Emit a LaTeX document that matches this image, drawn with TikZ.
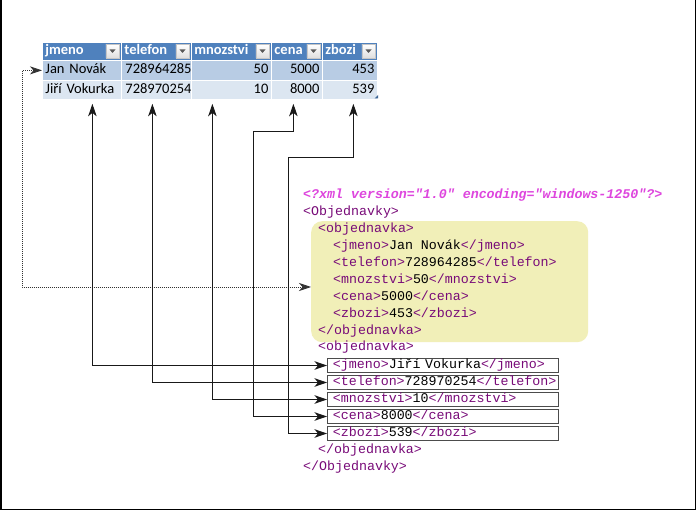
\documentclass[tikz,border=0pt]{standalone}
\usepackage{fontspec}
\setmainfont{Carlito}
\newfontfamily\xmlfont{Liberation Mono}
\usetikzlibrary{arrows.meta}
\definecolor{hdrblue}{RGB}{79,129,189}
\definecolor{rowA}{RGB}{184,204,228}
\definecolor{rowB}{RGB}{220,230,241}
\definecolor{xmlpink}{RGB}{222,70,222}
\definecolor{tagcol}{RGB}{120,10,120}
\definecolor{boxyellow}{RGB}{241,239,184}
\newcommand{\tg}[1]{\textcolor{tagcol}{#1}}
\newcommand{\tabfont}{\fontsize{14.5}{17}\selectfont}
\newcommand{\xmlsize}{\fontsize{13.3}{15}\selectfont}
\begin{document}
\begin{tikzpicture}[x=1pt,y=-1pt,
  cell/.style={anchor=north west, inner xsep=3pt, inner ysep=0pt, font=\tabfont,
    draw=white, line width=0.8pt, text height=10pt, text depth=3pt},
  hdr/.style={cell, fill=hdrblue, text=white, font=\tabfont\bfseries, minimum height=18pt, align=left},
  ra/.style={cell, fill=rowA, minimum height=20pt},
  rb/.style={cell, fill=rowB, minimum height=19pt},
  ddbtn/.style={draw=gray!45, top color=white, bottom color=gray!25, minimum size=13.5pt, inner sep=0pt,
    path picture={\fill[black!65] (path picture bounding box.center) ++(-3pt,1.5pt) -- ++(6pt,0pt) -- ++(-3pt,-3.5pt) -- cycle;}},
  xline/.style={anchor=west, inner sep=0pt, font=\xmlfont\xmlsize, text height=8.5pt, text depth=3pt},
  xbox/.style={xline, draw=black!70, line width=0.8pt, inner xsep=5.5pt, minimum height=14pt, text width=220pt, align=left},
  ybox/.style={anchor=north west, fill=boxyellow, rounded corners=11pt, minimum width=277pt, minimum height=121pt, inner sep=0pt},
  conn/.style={draw=black!90, line width=1pt, arrows={Stealth[length=12.5pt,width=8.5pt,inset=3.5pt]-Stealth[length=12.5pt,width=8.5pt,inset=3.5pt]}},
  dotconn/.style={draw=black!80, line width=0.8pt, dash pattern=on 1pt off 1pt, arrows={Stealth[length=12pt,width=8pt,inset=3.5pt]-Stealth[length=12pt,width=8pt,inset=3.5pt]}}
]
\useasboundingbox (0,0) rectangle (696,510);
\fill[white] (0,0) rectangle (696,510);
\draw[black, line width=1.5pt] (0.75,0) -- (0.75,509.25) -- (695.25,509.25) -- (695.25,0);

% ---- table ----
\node[hdr, text width=73pt] (h1) at (42,42) {jmeno};
\node[hdr, text width=64pt] (h2) at (121,42) {telefon};
\node[hdr, text width=74pt] (h3) at (191,42) {mnozstvi};
\node[hdr, text width=45pt] (h4) at (271,42) {cena};
\node[hdr, text width=49pt] (h5) at (322,42) {zbozi};

\node[ra, text width=73pt, align=left] (a1) at (42,60) {Jan Novák};
\node[ra, text width=62pt, align=left, inner xsep=4pt] (a2) at (121,60) {728964285};
\node[ra, text width=74pt, align=right] (a3) at (191,60) {50};
\node[ra, text width=45pt, align=right] (a4) at (271,60) {5000};
\node[ra, text width=49pt, align=right] (a5) at (322,60) {453};

\node[rb, text width=73pt, align=left] (b1) at (42,80) {Jiří Vokurka};
\node[rb, text width=62pt, align=left, inner xsep=4pt] (b2) at (121,80) {728970254};
\node[rb, text width=74pt, align=right] (b3) at (191,80) {10};
\node[rb, text width=45pt, align=right] (b4) at (271,80) {8000};
\node[rb, text width=49pt, align=right] (b5) at (322,80) {539};

\node[ddbtn] (d1) at (112.5,51) {};
\node[ddbtn] (d2) at (182.5,51) {};
\node[ddbtn] (d3) at (262.5,51) {};
\node[ddbtn] (d4) at (313.5,51) {};
\node[ddbtn] (d5) at (368.5,51) {};
\fill[hdrblue!80!black] (374.5,98.5) -- (378,98.5) -- (378,95) -- cycle;

% ---- XML ----
\node[ybox] (ybox) at (311,221) {};
\node[xline, text=xmlpink, font=\xmlfont\xmlsize\bfseries\itshape] (decl) at (303,195.5) {<?xml version="1.0" encoding="windows-1250"?>};
\node[xline] (root) at (303,212.5) {\tg{<Objednavky>}};
\node[xline] (o1) at (318,229.5) {\tg{<objednavka>}};
\node[xline] (j1) at (333,246.5) {\tg{<jmeno>}Jan Novák\tg{</jmeno>}};
\node[xline] (t1) at (333,263.5) {\tg{<telefon>}728964285\tg{</telefon>}};
\node[xline] (m1) at (333,280.5) {\tg{<mnozstvi>}50\tg{</mnozstvi>}};
\node[xline] (c1) at (333,297.5) {\tg{<cena>}5000\tg{</cena>}};
\node[xline] (z1) at (333,314.5) {\tg{<zbozi>}453\tg{</zbozi>}};
\node[xline] (e1) at (318,331.5) {\tg{</objednavka>}};
\node[xline] (o2) at (318,348) {\tg{<objednavka>}};
\node[xbox] (x1) at (327,365.5) {\tg{<jmeno>}Jiří Vokurka\tg{</jmeno>}};
\node[xbox] (x2) at (327,382.5) {\tg{<telefon>}728970254\tg{</telefon>}};
\node[xbox] (x3) at (327,399.5) {\tg{<mnozstvi>}10\tg{</mnozstvi>}};
\node[xbox] (x4) at (327,416.5) {\tg{<cena>}8000\tg{</cena>}};
\node[xbox] (x5) at (327,433.5) {\tg{<zbozi>}539\tg{</zbozi>}};
\node[xline] (e2) at (318,450.5) {\tg{</objednavka>}};
\node[xline] (eroot) at (303,467.5) {\tg{</Objednavky>}};

% ---- connectors ----
\coordinate (dotturn) at (22,287);
\draw[dotconn] (a1.west) -| (dotturn) -- (dotturn -| ybox.west);

\draw[conn] ([xshift=10.5pt,yshift=-4pt]b1.south) |- (x1.west);
\draw[conn] ([xshift=-4pt,yshift=-4pt]b2.south) |- (x2.west);
\draw[conn] ([xshift=-19pt,yshift=-4pt]b3.south) |- (x3.west);
\draw[conn] ([xshift=-3.5pt,yshift=-4pt]b4.south) |- (253,132) |- (x4.west);
\draw[conn] ([xshift=3.5pt,yshift=-4pt]b5.south) |- (288,158) |- (x5.west);
\end{tikzpicture}
\end{document}
